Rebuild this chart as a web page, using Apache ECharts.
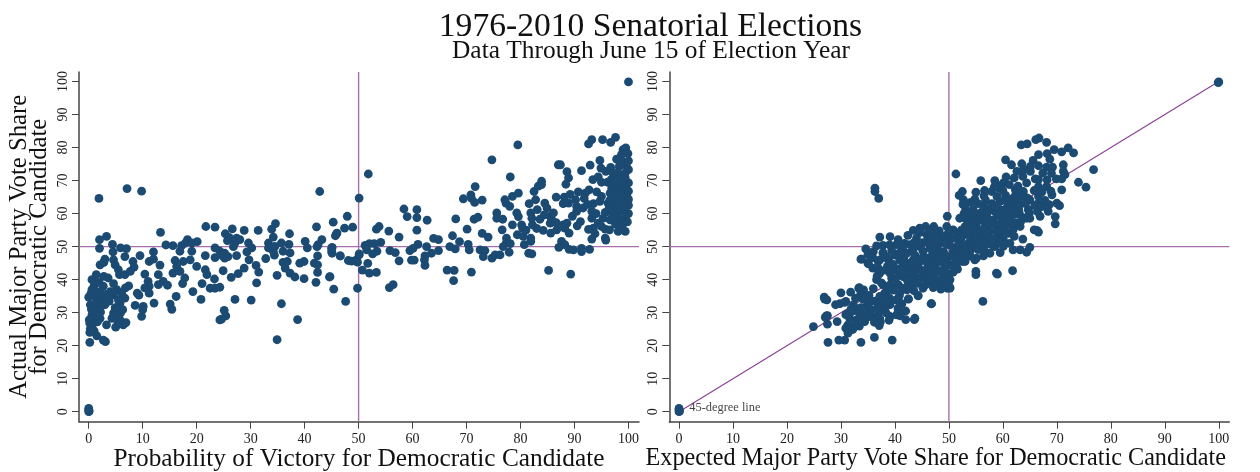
<!DOCTYPE html>
<html><head><meta charset="utf-8">
<script src="https://cdn.jsdelivr.net/npm/echarts@6/dist/echarts.min.js"></script>
<style>html,body{margin:0;padding:0;background:#fff}#c{width:1260px;height:472px}</style></head>
<body><div id="c"></div>
<script>
const titleText = "1976-2010 Senatorial Elections";
const subtitleText = "Data Through June 15 of Election Year";
const leftXName = "Probability of Victory for Democratic Candidate";
const rightXName = "Expected Major Party Vote Share for Democratic Candidate";
const yName = "Actual Major Party Vote Share\nfor Democratic Candidate";
const tickValues = [0,10,20,30,40,50,60,70,80,90,100];
const axisMin = -1.8, axisMaxX = 101.95, axisMinY = -3.03, axisMaxY = 102.9;

const leftCorners = [[0,0],[0,0.5],[0,1],[0.1,0.2],[100,99.9],[1.9,64.6],[7.1,67.6],[9.8,66.8],[42.8,66.7]];
const leftLow = [[21.7,56.1],[23.4,55.9],[13.3,54.3],[3.3,53.1],[2,52.1],[2,49.5],[4.4,50.7],[4.5,48.4],[5.9,49.6],[7,49.4],[6.7,47],[9.5,47.3],[12,48.4],[11.2,45.5],[12,46.2],[8.2,45.5],[3,46.2],[2.1,44.5],[2.8,45.2],[4.6,46],[4.9,44.5],[5.5,43],[5.7,41.5],[6.7,41.5],[7.7,42.5],[8.4,43.8],[13.2,44.4],[10.4,41.7],[12.9,41.5],[11,39.5],[11.2,38],[10.4,37.5],[12.9,38.5],[13.8,39.5],[14.6,38.3],[11.2,35.9],[9,35.9],[9.3,35.3],[7.4,38.1],[6.8,37.5],[12.1,32.9],[8.6,32.2],[10.1,31.9],[10,30.9],[9.8,28.9],[15.1,32.6],[15.4,31],[16.2,34.9],[19.3,36.4],[20.8,34],[21.6,47.3],[14.3,50.5],[15.6,50.3],[17.2,50.3],[16.9,48.6],[18.3,52.1],[17.9,51.1],[19.1,51.1],[20.1,51.5],[19.1,48.6],[16,45.8],[17.5,45.5],[18.8,46],[20,44],[21.6,43],[21.9,41.5],[23.3,40.2],[21,38.8],[22.5,37.4],[23.4,37.4],[15.6,42],[16.9,42.5],[17.8,40.5],[17.4,38.8],[16.3,44],[23.4,49.6],[23.4,46.7],[24.3,27.8]];
const leftCluster = [[0.2,21],[3.1,21.2],[2.7,21.7],[1.5,23],[0.2,24],[0.6,25.8],[0.2,26.8],[0.1,27.8],[0.6,29.3],[2.1,28.3],[3.3,26.3],[5,25.6],[6.4,26.3],[6.9,27],[5.8,27.8],[4.3,28.3],[4.6,29.9],[5.9,29.9],[3,32.4],[2.1,31.9],[0.9,30.9],[0.3,32.4],[0,34.7],[0.6,37],[0.6,40],[1.4,41.5],[2.8,41],[3.6,40.5],[4.6,38.8],[2.7,38],[2.1,36.4],[1.2,34.9],[1.5,33.4],[2.4,34.4],[5.2,37],[6.1,35.9],[6.7,34.4],[5.8,32.9],[4.6,35.4],[4,36.4],[6.3,30.9],[5.2,28],[0.4,35.8],[1,38.2],[1.3,36.2],[1.9,39.2],[2.2,33],[1,32.5],[0.5,31],[1.4,30],[0.8,28],[0.3,25.2],[1,24.5],[4.9,31.5],[5.5,33.8],[3.8,33.5],[3.2,35.5],[2.2,30.2],[1.6,27.2]];
const leftMid = [[47.9,59.2],[45.3,57.4],[47.4,55.6],[48.9,55.9],[42.2,56],[46,54.1],[45.7,53.3],[34.6,57],[33.9,55.3],[26.6,55.4],[28.8,54.9],[31.4,54.9],[25.3,53.9],[37.2,53.9],[34.2,52.9],[27.4,52.6],[25.7,51.8],[27.1,51.1],[28,52.1],[29.6,51.1],[30.2,49.6],[29.3,48.4],[33.3,51.1],[33.3,49.6],[34.5,50.1],[35.7,51.1],[37.1,50.7],[34.2,48.6],[34.4,47.4],[36,48.6],[37.3,48.1],[40.1,51.6],[40.5,49.6],[43.2,52.1],[42.5,50.6],[42.3,50],[45.1,49.8],[45.1,48],[46.6,47.2],[42.4,47.2],[48.1,45.8],[49.6,46],[50.1,47.5],[27.4,47.3],[25.2,48],[25.2,46.5],[24.3,48.6],[29.7,46],[32.8,46.4],[36,45.2],[36.8,45.5],[36.4,43.5],[37.3,42],[38.2,40.8],[39.9,40.3],[39.1,45],[39.9,45.5],[41.8,45],[42.4,44.5],[42.4,42.2],[42.1,39.2],[44.6,40.8],[45.4,37.1],[49.8,37.4],[47.6,33.4],[34.9,41.3],[31.5,42.3],[31,44.3],[28.8,43.5],[27.7,41.8],[26.4,40.7],[24.9,42.7],[31.1,39],[24.3,37.7],[27.1,34],[30.1,33.8],[35.7,32.7],[25.1,30.7],[25.4,29],[24.6,28],[38.7,27.9],[34.9,21.8],[26,52.8],[26.8,50],[24.8,47.2],[25.8,47],[45,49.5],[45,48.5],[44.7,40.9]];
const leftHigh = [[51.8,72],[50.1,64.7],[45.9,53.9],[58.4,61.4],[60.8,61.2],[60.8,58.8],[59,59.1],[62.7,58],[68,58.4],[53.8,56.1],[53.3,55.3],[55.6,54.7],[60.8,55],[57.5,52.9],[63.9,52.5],[64.8,52.1],[54.1,51.3],[51.2,50.4],[52,50.9],[52.9,50.9],[51.5,49],[53.4,48.6],[52.6,47.8],[55.8,48.8],[56.8,48.2],[59.5,48.8],[60.1,49.5],[61,50.7],[62.6,50],[64.8,48.8],[63.5,48],[62.3,47.2],[62.2,46],[62.3,44.3],[57.5,45.7],[59.8,45.9],[60.3,45.9],[50.1,47.8],[46.6,47.2],[48.7,45.6],[49.8,45.3],[51.7,44.9],[50.7,42.9],[52,42],[53.3,42.2],[55.7,37.6],[56.4,38.5],[66.4,42.9],[67.7,42.8],[67.6,39.7],[70.9,42.3],[85.2,42.8],[89.3,41.7],[67.4,53.3],[68.7,51.5],[66.9,50],[67.9,49.3],[70.3,50.7],[70.5,49],[72.5,49],[73.4,48.8],[73.1,47],[74.7,46.5],[75.3,47.5],[76.2,47.5],[77.9,48.3],[76.8,50],[77.4,51.3],[78.1,50.9],[77.4,52.6],[76.6,55.1],[72.9,54],[74,52.9],[70.1,55.3],[71.4,58.3],[72.1,58.9],[69.4,64.5],[70.8,65.7],[70.9,64.7],[71.5,63.4],[72.9,64.1],[71.6,68.2],[74.7,76.3],[79.5,80.8],[78.1,71.1],[75.6,60.2],[75.6,58.6],[76.7,58.3]];
const leftTop = [[77.1,64.2],[77.3,63.2],[78.5,65.2],[79.6,66.2],[78,62.2],[79.3,60.2],[79.6,59.1],[78.5,56.6],[80.2,56.6],[80.4,55.6],[79.4,53.6],[80.5,53.1],[80.7,50.6],[81.9,52.6],[81.9,51.6],[81.5,48],[82.1,47.8],[81.6,63],[81.9,60.2],[82.1,58.6],[82.2,56.6],[82.5,66.7],[83.3,68.3],[83.9,69.8],[83.9,68.8],[82.8,64.2],[83.1,61.2],[83.6,58.3],[84.5,63.2],[84.9,61.7],[84.2,54.9],[85.5,59.2],[85.8,58.1],[85.5,57.1],[85.6,54.1],[86.7,55.1],[87.9,56.6],[88.6,57.1],[89,54.1],[88.2,55.6],[86.6,65],[88.1,65],[87.9,63],[88.9,63.2],[87,74.8],[87.4,74.8],[88.6,72.7],[88.9,70.8],[88.4,68.9],[91.3,73],[92.9,74.7],[92.6,81.1],[93.2,82.4],[95.2,82.4],[96.7,81.6],[97.6,83.1],[94.7,76.1],[94.9,73.8],[95.8,72.8],[93.4,70.3],[94.4,71.1],[95,69.5],[96.1,69.5],[92,66.2],[92.7,67.2],[90.2,64.2],[90.4,62.2],[90.4,60.7],[91.6,61.7],[91.1,57.6],[90.5,56.3],[93.2,60.7],[93.5,63],[93.2,58.6],[93.5,55.6],[93.8,53.9],[93.2,52.3],[94.4,57.1],[95,56.1],[95.7,55.3],[96.5,55.1],[95.7,52.6],[95.8,52],[95,65.2],[94.7,63.7],[87.6,51.6],[87.1,49.8],[88.2,50.6],[89,49.2],[89.8,49],[91.3,49.5],[91.3,48.5],[92.8,49.2],[98.1,54.6],[99.4,54.6],[99,56.9],[96.6,58.1]];
const leftDense = [[97.8,76.5],[98.7,77.9],[99,79.4],[99.5,79.9],[99.9,78.2],[98.3,74.3],[99.6,74.5],[100,73.3],[99.4,72.3],[98.3,70.8],[99.4,70.8],[100,69.3],[96.9,67.7],[97.8,68.2],[99,67.2],[96.6,66.2],[97.5,66.2],[98.5,66],[99.7,65.2],[96.6,64.2],[97.5,64.2],[98.8,64.2],[100,62.5],[96.9,62.2],[97.9,62.2],[99,62.2],[95.7,60.4],[96.9,60.2],[98.1,60.2],[99.4,58.6],[98.1,58.6],[96.2,63.2],[97.2,65.2],[98.2,63.2],[99.4,60.6],[97.2,59.2],[86.1,60.2],[84.4,59.6],[89.6,59.2],[91.8,64.6],[92.4,62.8],[94.1,66.6],[94,60],[95.3,58.6],[92.6,55.2],[89.2,65.8],[90.7,66.6],[81,55],[83,55.5],[86.6,57.3],[96.8,70.3],[97.2,72],[98,72.5],[96.7,74],[98.9,75.8],[97.3,69],[100,76],[98.4,69.5],[99.2,68.4],[100,66.8],[100,64.3],[96.4,61.5],[99.8,57.5],[97.6,56.8],[98.6,56],[100,60]];

const rightCorners = [[0,0],[0,0.5],[0,1],[0.1,0.2],[100,99.9],[99.9,99.7]];
const rightLow = [[24.9,25.8],[26.9,34.7],[27.4,33.9],[30,36],[31.8,36.2],[33.3,37.4],[34.2,36.9],[33.7,35.9],[29,32.4],[29.8,32.7],[30.9,33.4],[32.3,32.4],[32.9,30.8],[27.1,28.6],[27.5,29.1],[27.5,26.5],[29.3,27.3],[30.9,29.4],[31.3,29.8],[31.6,28.3],[32.9,27.8],[32.6,26.3],[31.3,26.3],[30.9,25.3],[31.6,24.8],[31.3,23.8],[30.7,21.7],[29.6,21.7],[27.6,21],[33.7,21],[36.2,22.5],[39.5,21.7],[34.1,29.3],[35,29.8],[34.7,31.8],[35.4,33.4],[36,28.8],[37.1,26.1],[37.3,27.2],[38.9,27.7],[39.1,28.8],[40.3,29.3],[40.6,31],[42,30.5],[42,27.9],[43.6,27.9],[46.8,32.7],[36.9,31.8],[38.1,31.3],[38.8,32.4],[37.5,32.9],[37.2,34.9],[38.1,35.9],[39,34.4],[40.3,33.9],[42.5,34.1],[44.3,35.1],[40.6,38.4],[42.2,36.9],[45.2,37.4],[50.2,37.6],[49.7,37.4],[36.6,40],[36.9,41.5],[37.8,38.4],[39.4,40.4],[39.4,42.5],[41.5,40.9],[43.1,38.9],[44,40.4],[45.9,40.1],[48,38.9],[49.3,38.4],[49.9,40.4],[33.8,46.2],[35,45],[35.9,43.5],[36.9,45.5],[38.7,46.2],[37.8,48],[41.2,46.5],[42.2,44]];
const rightTop = [[76.8,73.3],[74,69.5],[75.4,68],[73.1,78.4],[72.1,79.9],[70.9,78.7],[69.5,79.4],[68.2,78.2],[66.6,77.9],[65.6,76.1],[66.7,82.9],[66.1,82.4],[68.1,81.6],[63.4,80.8],[64.5,81.1],[60.5,76.3],[61.6,74.8],[63.5,75.1],[63.9,73.3],[65.1,72.8],[62.6,72.8],[62.1,70.8],[63.7,71.3],[64.4,69.3],[60.6,71.1],[58.5,70],[55.9,70],[51.3,72],[68.7,76.5],[66.6,74.5],[68.1,74.1],[69.2,74.1],[71.2,74.8],[71.2,72.8],[71.5,71.8],[69.9,70.5],[70.9,70.5],[66,70.5],[66.6,70.3],[68.1,68.2],[66.6,68.2],[70.9,67.2],[69.1,65.7],[70,63.2],[70.5,62.4],[68.6,62.7],[68.4,60.7],[69.7,59.1],[69.7,56.9],[66.3,54.9],[66.6,54.4],[65.8,55.1],[63.7,52.3],[65,49.8],[64.4,48.3],[63.2,49],[61.9,49],[65,58.6],[64.4,58.6],[64.7,61.2],[65,64.2],[66.6,65.2],[63.8,66.7],[61.9,64.7],[60.1,69.3],[59.3,67.7],[57.9,66.7],[56.5,65.4],[54.8,64.4],[52.5,66.7],[51.9,65.5],[52.7,64.2],[53.1,61.4],[52,58.6],[49.7,59.2]];
const rightUpperBlob = [[54.5,61.2],[56.4,62.2],[59.5,63.7],[61.9,61.7],[60.7,61.7],[59.5,61.2],[62.9,61.7],[57,59.1],[55.4,59.7],[58.2,58.1],[60.1,58.1],[61.3,58.1],[63.2,56.1],[61.9,55.1],[60.4,56.1],[59.5,53.6],[58.8,56.6],[56.7,56.1],[55.1,56.1],[53.9,57.1],[53,56.1],[56.1,53.1],[54.5,52.9],[53.9,51.6],[57,51.1],[60.1,52.1],[60.1,50.1],[57.9,50.6],[59.5,48.2],[57.6,48],[56.4,47.2],[55.1,46.5],[54.8,46],[53,45.5],[51.4,44.5],[50.2,44.5],[55,42.5],[55,41.5],[58.8,42],[59,41.7],[61.8,42.7],[56.3,33.4],[58,63],[60.5,65.5],[58.6,60.5],[56.8,64],[62.8,64],[62.2,59.8],[63.5,59],[55.4,63],[53.6,59.5],[57.5,54.5],[55.6,54.3],[58.7,54.8],[61,54],[66.5,63],[67.2,66.5],[65.8,67],[67.8,64],[60,67],[62.3,67.3],[64.5,64.8],[55.9,58],[57.3,60.7],[59.2,59.4],[60.4,60],[61.6,63.2],[63.1,62.9],[63.4,65.2],[62.4,65.9],[58.9,65.2],[57.8,62],[56,60.4],[54.7,58.3],[56.2,55],[57.9,56.8],[59.9,55],[62.4,57.2],[63.3,57.6],[66.4,60.6],[67.2,62.1],[65.9,62.4],[66.9,59.2],[64.2,63],[61.1,56.9],[53.1,53.7],[52.3,55],[55.3,51.2],[56.6,50.1],[58.4,52.4],[61.3,51],[62.1,53.1],[59.7,57.3],[54.5,54.9],[53.1,58.5],[62.8,68.3],[61.2,68.8],[58.7,69],[68.9,66.8],[67.4,72.3],[68.2,70.2],[65.1,74.3],[69,72.2],[54.4,56],[55,58],[52.8,60],[54.4,59],[56.8,58],[58.6,62.4],[60.9,63.2],[57.2,57.4],[53.5,54.2],[55.2,52.2],[57.2,52.8],[58.5,50],[56.3,51.6],[52.2,49.8],[51.5,47.8],[54.3,50.6],[59.2,51.5],[61.4,59.6],[63,60.6],[64.9,60.2],[60.6,64],[56.6,67],[55,66.5],[52.6,62.8],[54,63.4],[58.4,68]];
const rightBlob = [[46.7,32.7],[50.2,37.4],[49.9,38.9],[50.2,40],[48,38.9],[46.5,40.5],[44.3,35.2],[42.5,34.2],[40.9,35.9],[36.3,67.7],[36.3,66.7],[37,64.6],[37.2,52.9],[40.6,52.1],[40.3,50.6],[34.6,49.3],[37.8,50.4],[36,48.5],[37.8,48.2],[33.7,46.2],[35.1,44.8],[38.8,46.2],[37.2,46],[36.9,43.5],[37.2,42],[36.7,41],[37.5,39],[39.1,42],[40.3,43],[40.9,46],[42.2,48],[43.4,54.9],[44.6,55.6],[45.7,56.1],[47.2,56.1],[44,52.6],[45.9,53.6],[47.4,53.6],[49.6,56.1],[50.8,55.1],[51.7,53.6],[42.8,50.6],[44.6,50],[46.5,49.5],[48.3,51.1],[50.2,52.1],[52,51.1],[49,48.5],[50.8,48.5],[52.7,49],[53.9,48.5],[45.3,47],[47.1,46],[49.6,46],[43.4,46],[42.2,45],[44,43.5],[45.9,43],[47.7,43],[49.6,42],[40.9,41.5],[42.8,41],[44.6,40.4],[39.1,38.4],[40.6,38.4],[42.5,38.4],[38.4,35.4],[40.3,33.9],[37.2,32.4],[39.1,32.4],[35.1,33.1],[33.4,37.6],[34.1,36.1],[27,34.1],[30.7,33.1],[32.6,30.6],[27.3,29],[31.6,29.6],[33.5,28.8],[35.4,28.8],[37.2,28.2],[40.6,31.4],[43.7,28.3],[39.1,28.8],[41,29],[46,51.8],[48,49],[47,47.8],[48.4,47.2],[49.2,44],[51.2,46.4],[52.6,47.2],[47.6,44.7],[46,45],[44.5,45.2],[43,43.5],[41.5,44.8],[48.2,54.8],[49.5,53.4],[46.3,51],[43.2,48.8],[45.2,48.6],[41.4,49.5],[39.4,48.8],[39,50.5],[38.6,44],[40,47.4],[41.8,42.4],[43.6,42],[45.4,41.6],[47.3,41],[48.7,40.2],[51.3,49.8],[50,50.5],[48.8,52.7]];
const rightFill = [[41.7,46.9],[43.7,47.4],[44.8,46.3],[46.2,46.6],[46.8,44.2],[48.3,45.6],[49.7,44.9],[50.7,47.1],[49.3,47.4],[47.5,50.3],[45.2,51.2],[43.6,51.3],[41.8,51],[42.4,53.4],[46.7,52.6],[47.9,52],[49.4,50.9],[51,52.6],[53,50.6],[54.2,49.8],[55.4,49.1],[56.5,48.8],[53.9,47.1],[52.5,45.5],[51.6,43.2],[50.8,42.3],[48.4,42.4],[46.6,42.1],[44.9,42.9],[43.1,44.9],[41,43.3],[39.7,44.6],[38.2,42.9],[40.1,40.3],[42.3,39.8],[44.2,38.9],[46.9,39.4],[41.4,37.4],[43.5,36.7],[39.7,36.8],[38.9,37.2],[36,37.3],[35.2,35.2],[36.3,33.5],[34.1,34.1],[32.7,34.4],[31.9,31.2],[33.7,31.5],[35.6,31],[37,30.2],[38.4,29.9],[36.2,27.1],[34.4,27.3],[33.4,25.9],[32.2,24.9],[38.2,33.7],[40.8,35],[41.3,32.7],[45.7,38.5],[47.1,37.6],[48.5,37.1],[44.7,54.3],[46.6,54.9],[50,54.5],[52.3,52.6],[43.5,49.7],[40.9,48.2],[38.4,47],[39.1,53],[35.9,46.7],[35,47.6],[36.6,50.2]];

const leftPoints = [].concat(leftCorners, leftLow, leftCluster, leftMid, leftHigh, leftTop, leftDense);
const rightPoints = [].concat(rightCorners, rightLow, rightTop, rightUpperBlob, rightBlob, rightFill);

const lineColor = "#a870aa", diagColor = "#8a3f94", dotColor = "#1b4a72", inkColor = "#222";
const serif = "'Liberation Serif','Times New Roman',serif";

function xAxisFor(gridIndex, name, nameGap, size, pad) {
  return { gridIndex, type:"value", min:axisMin, max:axisMaxX, name, nameLocation:"middle", nameGap, nameMoveOverlap:false,
    nameTextStyle:{fontFamily:serif,fontSize:size,color:"#111",padding:[0,pad,0,0]},
    splitLine:{show:false},
    axisLine:{onZero:false,lineStyle:{color:"#444",width:1.5}},
    axisTick:{length:7,lineStyle:{color:"#444",width:1},customValues:tickValues},
    axisLabel:{fontFamily:serif,fontSize:14,color:inkColor,margin:11,customValues:tickValues,formatter:v=>String(v)} };
}
function yAxisFor(gridIndex, name) {
  return { gridIndex, type:"value", min:axisMinY, max:axisMaxY, name, nameLocation:"middle", nameGap:29, nameRotate:90,
    nameTextStyle:{fontFamily:serif,fontSize:24.7,color:"#111",lineHeight:20},
    splitLine:{show:false},
    axisLine:{onZero:false,lineStyle:{color:"#444",width:1.5}},
    axisTick:{length:7,lineStyle:{color:"#444",width:1},customValues:tickValues},
    axisLabel:{fontFamily:serif,fontSize:14,color:inkColor,margin:16,rotate:90,customValues:tickValues,formatter:v=>String(v),verticalAlign:"middle",align:"center"} };
}
function refLine(i, data, color, width) {
  return {type:"line",xAxisIndex:i,yAxisIndex:i,data,symbol:"none",silent:true,z:1,lineStyle:{color,width}};
}
function dots(i, data) {
  return {type:"scatter",xAxisIndex:i,yAxisIndex:i,data,symbol:"circle",symbolSize:8.8,z:3,itemStyle:{color:dotColor,opacity:1},silent:true};
}
const chart = echarts.init(document.getElementById("c"),null,{renderer:"canvas"});
chart.setOption({
  animation:false, backgroundColor:"#fff",
  title:[
    {text:titleText,left:645.5,textAlign:"center",top:5,textStyle:{fontFamily:serif,fontSize:33.6,fontWeight:"normal",color:"#111"}},
    {text:subtitleText,left:646,textAlign:"center",top:34,textStyle:{fontFamily:serif,fontSize:25.4,fontWeight:"normal",color:"#111"}}
  ],
  grid:[
    {left:79,top:72,width:560,height:349.7,outerBoundsMode:"none"},
    {left:669.3,top:72,width:560,height:349.7,outerBoundsMode:"none"}
  ],
  xAxis:[xAxisFor(0,leftXName,25,25.3,0),xAxisFor(1,rightXName,25,24.2,27)],
  yAxis:[yAxisFor(0,yName),yAxisFor(1,"")],
  series:[
    refLine(0,[[axisMin,50],[axisMaxX,50]],lineColor,1.4),
    refLine(0,[[50,axisMinY],[50,axisMaxY]],lineColor,1.4),
    dots(0,leftPoints),
    refLine(1,[[axisMin,50],[axisMaxX,50]],lineColor,1.4),
    refLine(1,[[50,axisMinY],[50,axisMaxY]],lineColor,1.4),
    refLine(1,[[0,0],[100,100]],diagColor,1.1),
    dots(1,rightPoints),
    {type:"scatter",xAxisIndex:1,yAxisIndex:1,data:[[1.9,1.1]],symbolSize:0,z:4,silent:true,
     label:{show:true,position:"right",distance:0,formatter:"45-degree line",fontFamily:serif,fontSize:12.4,color:"#111"}}
  ]
});
</script></body></html>
